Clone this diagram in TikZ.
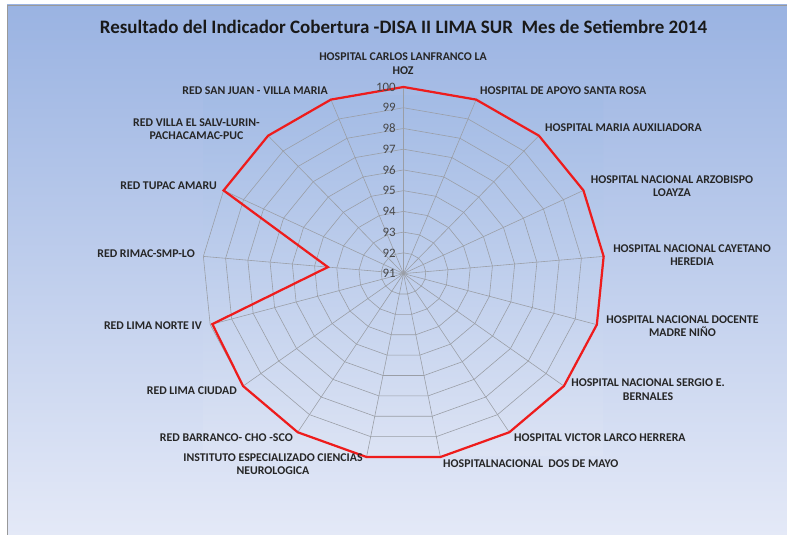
\documentclass[tikz,border=0pt]{standalone}
\usepackage{fontspec}
\setmainfont{Carlito}
\usetikzlibrary{positioning}

\definecolor{bgtop}{HTML}{9AB3E2}
\definecolor{bgbot}{HTML}{E4E9F7}
\definecolor{areatop}{HTML}{A3BBE5}
\definecolor{areabot}{HTML}{DCE3F4}
\definecolor{webgray}{HTML}{9A9EA6}
\definecolor{datared}{HTML}{EE1C1C}

\tikzset{
  catlabel/.style={font=\bfseries\fontsize{10.1}{11.6}\selectfont, text=black!85, align=center, inner sep=0pt},
  ringnum/.style={font=\fontsize{11}{12}\selectfont, text=black!72, anchor=east, inner sep=0pt},
  webline/.style={draw=webgray, line width=0.5pt},
  dataline/.style={draw=datared, line width=1.9pt, line join=miter}
}

\begin{document}
\begin{tikzpicture}[x=0.03cm, y=-0.03cm]
  \useasboundingbox (0,0) rectangle (787,535);
  \def\cx{403.5} % centre of the web
  \def\cy{273.6}

  % Background and frame
  \fill[white] (0,0) rectangle (787,535);
  \shade[top color=bgtop, bottom color=bgbot] (7,5) rectangle (787,535);
  \draw[gray!80, line width=0.8pt] (7,535) -- (7,5) -- (787,5);
  \shade[top color=areatop, bottom color=areabot] (203,95) rectangle (603,455);

  % Title
  \node[font=\bfseries\fontsize{16.2}{18}\selectfont, text=black!90] (title) at (403.5,27)
    {Resultado del Indicador Cobertura -DISA II LIMA SUR\ \ Mes de Setiembre 2014};

  % Web: one ring per unit from 92 to 100, one spoke per establishment
  \begin{scope}[shift={(\cx,\cy)}, x=0.67cm, y=0.622cm]
    \foreach \r in {1,...,9}
      \draw[webline] (90:\r) \foreach \k in {1,...,16} { -- (90-\k*360/17:\r) } -- cycle;
    \foreach \k in {0,...,16}
      \draw[webline] (0,0) -- (90-\k*360/17:9);

    % Data (coverage, %)
    \foreach \v [count=\k from 0] in {100,100,100,100,100,100,100,100,100,100,100,100,99.9,94.4,100,100,100} {
      \pgfmathsetmacro{\rr}{\v-91}
      \coordinate (d\k) at (90-\k*360/17:\rr);
    }
    \draw[dataline] (d0) \foreach \k in {1,...,16} { -- (d\k) } -- cycle;
  \end{scope}

  % Ring values
  \foreach \v in {91,...,100}
    \node[ringnum] (n\v) at (396, {\cy-(\v-91)*20.73}) {\v};

  % Category labels
  \foreach \nm/\px/\py/\an/\txt in {
      lanfranco/403/63.5/center/{HOSPITAL CARLOS LANFRANCO LA\\HOZ},
      santarosa/480/91/west/{HOSPITAL DE APOYO SANTA ROSA},
      mariaaux/545/128/west/{HOSPITAL MARIA AUXILIADORA},
      loayza/672/186/center/{HOSPITAL NACIONAL ARZOBISPO\\LOAYZA},
      cayetano/692/255/center/{HOSPITAL NACIONAL CAYETANO\\HEREDIA},
      docente/682.5/326/center/{HOSPITAL NACIONAL DOCENTE\\MADRE NIÑO},
      bernales/648/389.5/center/{HOSPITAL NACIONAL SERGIO E.\\BERNALES},
      larco/514/438/west/{HOSPITAL VICTOR LARCO HERRERA},
      dosdemayo/443/464/west/{HOSPITALNACIONAL\ \ DOS DE MAYO},
      instituto/273/464/center/{INSTITUTO ESPECIALIZADO CIENCIAS\\NEUROLOGICA},
      barranco/293/438/east/{RED BARRANCO- CHO -SCO},
      limaciudad/237/391/east/{RED LIMA CIUDAD},
      limanorte/202/326/east/{RED LIMA NORTE IV},
      rimac/195/254/east/{RED RIMAC-SMP-LO},
      tupac/217/186/east/{RED TUPAC AMARU},
      villasalv/196.5/129/center/{RED VILLA EL SALV-LURIN-\\PACHACAMAC-PUC},
      sanjuan/328/91/east/{RED SAN JUAN - VILLA MARIA}}
    \node[catlabel, anchor=\an] (\nm) at (\px,\py) {\txt};
\end{tikzpicture}
\end{document}
